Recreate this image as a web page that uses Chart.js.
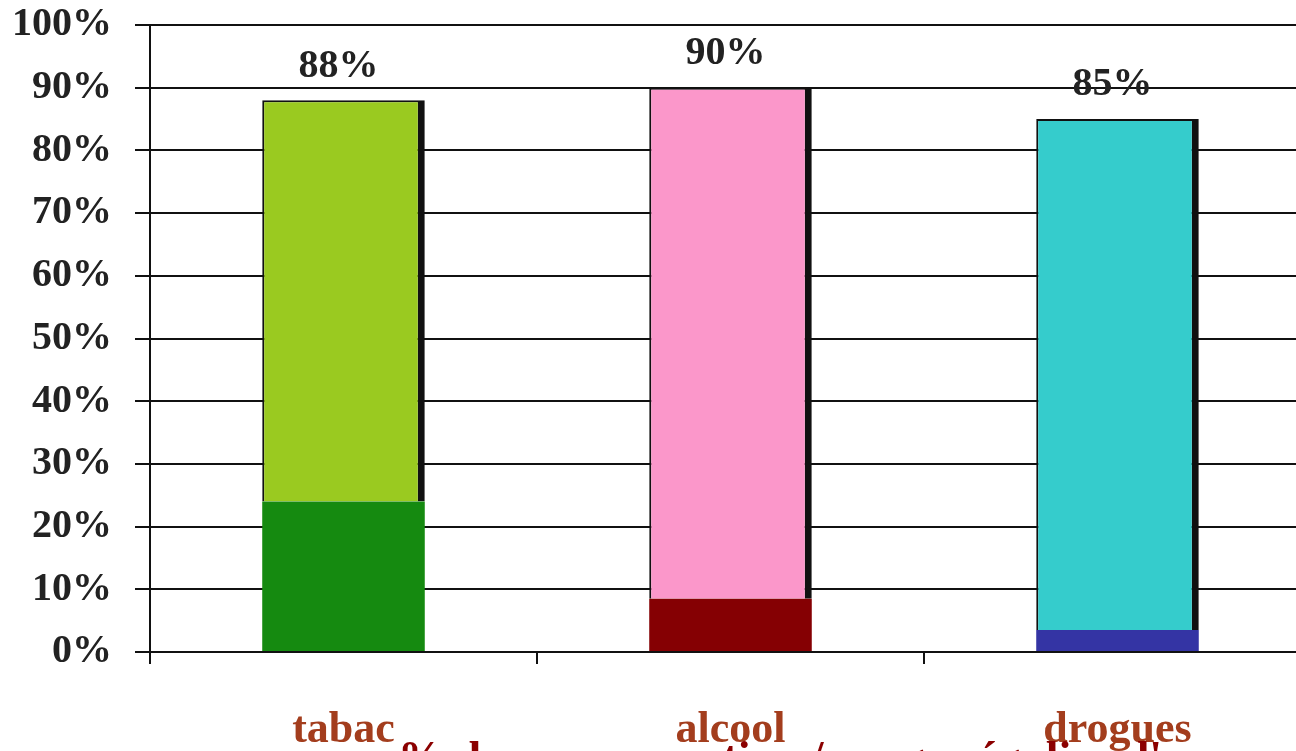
<!DOCTYPE html>
<html>
<head>
<meta charset="utf-8">
<script src="https://cdn.jsdelivr.net/npm/chart.js@4/dist/chart.umd.min.js"></script>
<style>
    html, body { margin: 0; padding: 0; background: #fff; overflow: hidden; }
    #wrap { width: 1311px; height: 785px; }
</style>
</head>
<body>
<div id="wrap"><canvas id="usageChart"></canvas></div>
<script>
const categories = ["tabac", "alcool", "drogues"];
const totalValues = [88, 90, 85];
const regularValues = [24, 8.5, 3.5];
const yTicks = [0, 10, 20, 30, 40, 50, 60, 70, 80, 90, 100];
const titleText = "% de consommation / usage régulier d'un produit";

const darkColors = ["#158a10", "#850003", "#3434a4"];
const lightColors = ["#9aca20", "#fb97ca", "#35cccc"];

const upperValues = totalValues.map((t, i) => t - regularValues[i]);

// totals above each stack + the (cropped) caption under the axis
const textPlugin = {
    id: "texts",
    afterDraw(chart) {
        const ctx = chart.ctx;
        const meta = chart.getDatasetMeta(1);
        ctx.save();
        ctx.font = "bold 40px 'Liberation Serif', 'Times New Roman', serif";
        ctx.fillStyle = "#222";
        ctx.textAlign = "center";
        ctx.textBaseline = "middle";
        meta.data.forEach(function (bar, i) {
            ctx.fillText(totalValues[i] + "%", bar.x - 5, bar.y - 34);
        });
        ctx.font = "bold 46px 'Liberation Serif', 'Times New Roman', serif";
        ctx.fillStyle = "#8b0000";
        ctx.textAlign = "left";
        ctx.textBaseline = "alphabetic";
        ctx.fillText(titleText, 398, chart.chartArea.bottom + 121);
        ctx.restore();
    }
};

new Chart(document.getElementById("usageChart"), {
    type: "bar",
    data: {
        labels: categories,
        datasets: [
            {
                label: "régulier",
                data: regularValues,
                backgroundColor: darkColors,
                borderWidth: 0,
                barPercentage: 0.42,
                categoryPercentage: 1
            },
            {
                label: "total",
                data: upperValues,
                backgroundColor: lightColors,
                borderColor: "#111",
                borderWidth: { top: 2, left: 2, right: 7, bottom: 0 },
                borderSkipped: false,
                barPercentage: 0.42,
                categoryPercentage: 1
            }
        ]
    },
    options: {
        responsive: true,
        maintainAspectRatio: false,
        animation: false,
        layout: {
            padding: { top: 25, left: 0, right: 0, bottom: 0 }
        },
        plugins: {
            legend: { display: false },
            tooltip: { enabled: false }
        },
        scales: {
            x: {
                stacked: true,
                afterFit: function (s) { s.height = 133; },
                grid: {
                    drawOnChartArea: false,
                    drawTicks: true,
                    tickLength: 12,
                    color: "#111",
                    lineWidth: 2
                },
                border: { color: "#111", width: 2 },
                ticks: {
                    color: "#a33d1d",
                    padding: 40,
                    font: { family: "'Liberation Serif', serif", size: 44, weight: "bold" }
                }
            },
            y: {
                stacked: true,
                min: 0,
                max: 100,
                afterFit: function (s) {
                    s.width = 150;
                    s.paddingTop = 0;
                    s.paddingBottom = 0;
                },
                afterBuildTicks: function (s) {
                    s.ticks = yTicks.map(v => ({ value: v }));
                },
                grid: {
                    color: "#111",
                    lineWidth: 2,
                    tickLength: 15
                },
                border: { color: "#111", width: 2 },
                ticks: {
                    autoSkip: false,
                    color: "#222",
                    padding: 23,
                    font: { family: "'Liberation Serif', serif", size: 40, weight: "bold" },
                    callback: v => v + "%"
                }
            }
        }
    },
    plugins: [textPlugin]
});
</script>
</body>
</html>
